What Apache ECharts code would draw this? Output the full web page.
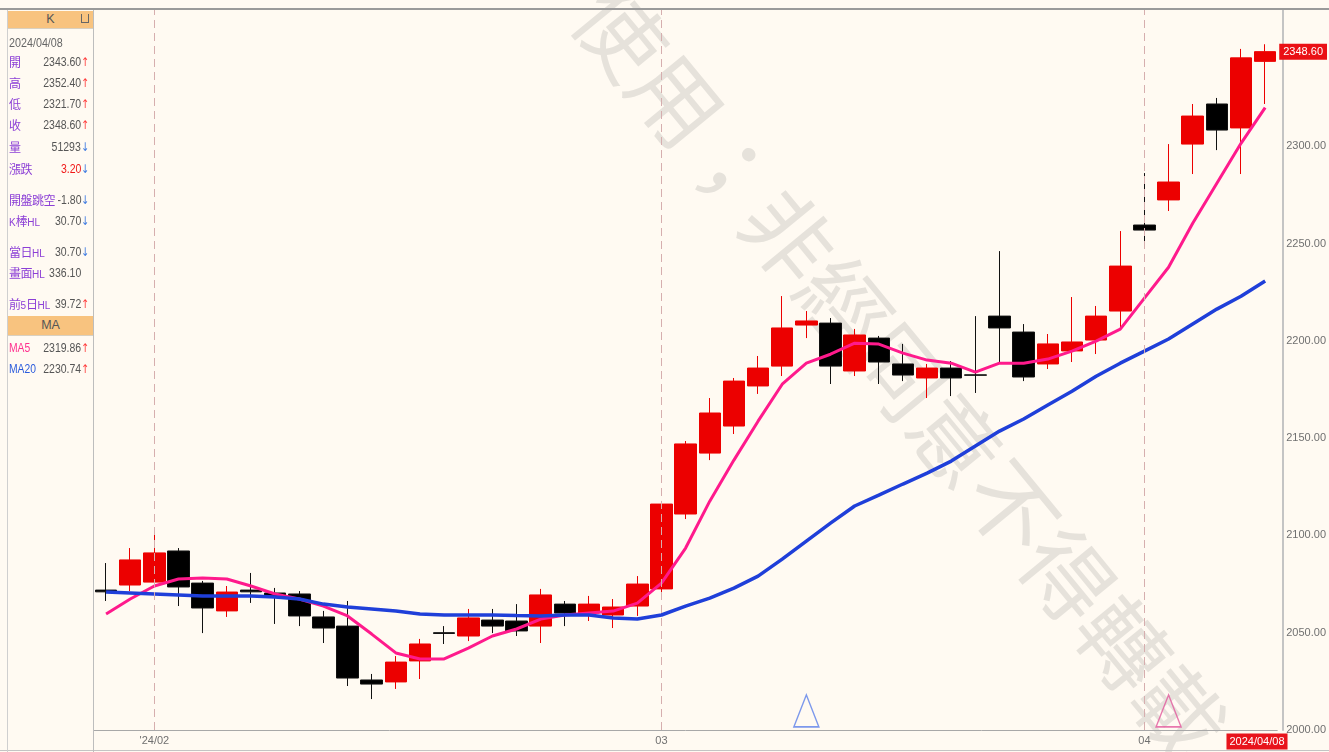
<!DOCTYPE html>
<html>
<head>
<meta charset="utf-8">
<title>K線</title>
<script src="https://cdn.jsdelivr.net/npm/echarts@6/dist/echarts.min.js"></script>
<style>
body{margin:0;background:#fffaf2;}
#wrap{position:relative;width:1329px;height:752px;overflow:hidden;background:#fffaf2;}
#main{position:absolute;left:0;top:0;width:1329px;height:752px;}
.topline{position:absolute;left:0;top:8px;width:1329px;height:2px;background:#9a9a9a;}
.botline{position:absolute;left:0;top:750px;width:1329px;height:1px;background:#c4c4c4;}
.panel{position:absolute;left:7px;top:10px;width:85px;height:742px;border-left:1px solid #cfcfcf;border-right:1px solid #bdbdbd;
  font-family:"Liberation Sans",Arial,sans-serif;font-size:12.5px;color:#555;pointer-events:none;}
.hd{position:absolute;left:0;width:85px;background:#f8c37f;text-align:center;color:#555;border-bottom:1px solid #d9d0c0;}
.hd .ic{position:absolute;right:4px;top:3px;width:6px;height:8px;border:1px solid #666;border-top:none;}
.row{position:absolute;left:1px;width:84px;height:16px;line-height:16px;white-space:nowrap;}
.dt{transform:scaleX(0.86);transform-origin:left center;color:#666;}
.lb{position:absolute;left:0;color:#8c3fd6;font-family:"Noto Sans CJK TC",sans-serif;font-size:12px;letter-spacing:-0.5px;}
.lb small{font-family:"Liberation Sans",Arial,sans-serif;font-size:10px;letter-spacing:0;}
.lb.ma{font-family:"Liberation Sans",Arial,sans-serif;font-size:12px;letter-spacing:0;transform:scaleX(0.86);transform-origin:left center;}
.v{position:absolute;right:12px;transform:scaleX(0.84);transform-origin:right center;}
.up,.dn{position:absolute;right:3px;font-family:"DejaVu Sans",sans-serif;font-size:12px;transform:scaleX(0.8);}
.up{color:#ff3b3b;}
.dn{color:#3a78e0;}
</style>
</head>
<body>
<div id="wrap">
  <div id="main"></div>
  <div class="topline"></div>
  <div class="botline"></div>
  <div class="panel">
    <div class="hd" style="top:1px;height:17px;line-height:17px;">K<span class="ic"></span></div>
    <div class="row dt" style="top:25px;">2024/04/08</div>
    <div class="row" style="top:44px;"><span class="lb">開</span><span class="v">2343.60</span><span class="up">↑</span></div>
    <div class="row" style="top:65px;"><span class="lb">高</span><span class="v">2352.40</span><span class="up">↑</span></div>
    <div class="row" style="top:86px;"><span class="lb">低</span><span class="v">2321.70</span><span class="up">↑</span></div>
    <div class="row" style="top:107px;"><span class="lb">收</span><span class="v">2348.60</span><span class="up">↑</span></div>
    <div class="row" style="top:129px;"><span class="lb">量</span><span class="v">51293</span><span class="dn">↓</span></div>
    <div class="row" style="top:151px;"><span class="lb">漲跌</span><span class="v" style="color:#f01818;">3.20</span><span class="dn">↓</span></div>
    <div class="row" style="top:182px;"><span class="lb">開盤跳空</span><span class="v">-1.80</span><span class="dn">↓</span></div>
    <div class="row" style="top:203px;"><span class="lb"><small>K</small>棒<small>HL</small></span><span class="v">30.70</span><span class="dn">↓</span></div>
    <div class="row" style="top:234px;"><span class="lb">當日<small>HL</small></span><span class="v">30.70</span><span class="dn">↓</span></div>
    <div class="row" style="top:255px;"><span class="lb">畫面<small>HL</small></span><span class="v">336.10</span></div>
    <div class="row" style="top:286px;"><span class="lb">前<small>5</small>日<small>HL</small></span><span class="v">39.72</span><span class="up">↑</span></div>
    <div class="hd" style="top:306px;height:19px;line-height:19px;">MA</div>
    <div class="row" style="top:330px;"><span class="lb ma" style="color:#ff2f8e;">MA5</span><span class="v">2319.86</span><span class="up">↑</span></div>
    <div class="row" style="top:351px;"><span class="lb ma" style="color:#2a5bdc;">MA20</span><span class="v">2230.74</span><span class="up">↑</span></div>
  </div>
</div>
<script>
// trading days shown on screen
var dates = [
  '2024/01/30','2024/01/31',
  '2024/02/01','2024/02/02','2024/02/05','2024/02/06','2024/02/07','2024/02/08','2024/02/09',
  '2024/02/12','2024/02/13','2024/02/14','2024/02/15','2024/02/16','2024/02/19','2024/02/20',
  '2024/02/21','2024/02/22','2024/02/23','2024/02/26','2024/02/27','2024/02/28','2024/02/29',
  '2024/03/01','2024/03/04','2024/03/05','2024/03/06','2024/03/07','2024/03/08','2024/03/11',
  '2024/03/12','2024/03/13','2024/03/14','2024/03/15','2024/03/18','2024/03/19','2024/03/20',
  '2024/03/21','2024/03/22','2024/03/25','2024/03/26','2024/03/27','2024/03/28',
  '2024/04/01','2024/04/02','2024/04/03','2024/04/04','2024/04/05','2024/04/08'
];
var opens = [2071.9,2074.5,2076.0,2092.0,2075.5,2061.2,2071.9,2070.4,2069.9,2058.1,
  2053.4,2025.7,2024.7,2035.5,2050.0,2048.3,2056.5,2056.0,2053.4,2064.7,
  2060.1,2059.1,2063.7,2072.5,2111.0,2142.3,2156.2,2176.8,2187.0,2208.1,
  2209.1,2184.5,2201.4,2188.1,2180.9,2186.0,2182.5,2212.7,2204.5,2188.1,
  2194.8,2200.4,2215.3,2259.5,2272.4,2301.1,2321.7,2309.4,2343.6];
var closes = [2071.0,2087.4,2091.0,2073.5,2062.7,2070.9,2071.0,2068.9,2058.6,2052.4,
  2026.7,2023.6,2034.9,2044.2,2049.6,2057.6,2053.4,2050.9,2069.4,2060.1,
  2064.7,2063.2,2075.0,2116.1,2147.0,2162.9,2179.3,2186.0,2206.6,2210.2,
  2187.0,2203.0,2189.1,2182.4,2186.0,2180.9,2182.3,2206.6,2181.4,2198.4,
  2199.4,2212.7,2238.4,2256.9,2281.6,2315.5,2308.3,2345.4,2348.6];
var lows = [2066.3,2071.4,2073.5,2063.7,2049.8,2058.1,2065.3,2054.5,2053.4,2044.7,
  2022.6,2015.9,2021.1,2026.2,2044.2,2045.7,2049.8,2048.3,2044.7,2053.4,
  2056.0,2052.4,2058.6,2070.4,2108.4,2138.7,2152.1,2172.7,2181.9,2201.4,
  2177.8,2181.9,2177.8,2179.3,2170.6,2171.6,2173.2,2188.1,2179.3,2185.5,
  2189.1,2193.2,2206.6,2248.7,2266.7,2285.7,2298.0,2285.7,2321.7];
var highs = [2085.8,2093.5,2103.3,2093.5,2076.6,2074.0,2080.7,2073.0,2071.4,2061.2,
  2066.3,2028.8,2038.0,2046.8,2053.4,2062.2,2062.2,2064.7,2072.5,2066.3,
  2068.9,2067.3,2079.1,2117.7,2148.5,2170.6,2180.9,2192.2,2223.0,2215.3,
  2211.7,2206.1,2202.5,2198.4,2188.1,2189.6,2212.7,2246.1,2208.6,2203.5,
  2222.5,2217.9,2256.4,2286.2,2301.1,2321.7,2324.8,2350.0,2352.4];
var ma5 = [2059.6,2067.3,2074.0,2077.6,2078.1,2077.6,2074.0,2069.9,2067.3,2063.7,
  2058.6,2049.3,2039.6,2036.5,2036.5,2042.1,2048.3,2051.9,2057.0,2059.1,
  2060.1,2061.1,2065.2,2075.5,2093.5,2117.6,2138.7,2158.7,2177.7,2188.5,
  2193.1,2198.8,2198.3,2193.7,2190.1,2188.5,2183.9,2188.5,2188.5,2190.6,
  2194.7,2199.8,2206.0,2221.9,2237.8,2260.4,2281.0,2301.5,2319.86];
var ma20 = [2070.9,2070.4,2069.9,2069.4,2068.8,2068.8,2068.8,2068.3,2067.3,2064.7,
  2063.2,2062.2,2061.1,2059.6,2059.1,2059.1,2059.1,2058.8,2058.6,2059.1,
  2059.1,2057.5,2057.0,2059.1,2063.7,2067.8,2072.9,2079.1,2087.8,2097.1,
  2106.3,2115.1,2120.7,2126.4,2132.0,2138.2,2145.9,2153.6,2159.8,2167.0,
  2174.1,2181.8,2188.5,2194.7,2200.9,2208.6,2216.3,2222.9,2230.74];
var monthDates = ['2024/02/01','2024/03/01','2024/04/01'];
var monthLabels = ["'24/02", '03', '04'];
var signalDates = ['2024/03/11', '2024/04/02'];
var signalLevels = [2009.8, 2009.8];
var lastClose = 2348.60;

var AXFONT = '"Liberation Sans",Arial,sans-serif';
var signalColors = ['#5b80ea', '#e2589c'];

var kData = dates.map(function (d, i) { return [opens[i], closes[i], lows[i], highs[i]]; });

var markData = monthDates.map(function (d) {
  return { xAxis: d, label: { show: false },
    lineStyle: { color: '#d6aeae', type: [8, 5], width: 1 } };
});
markData.push({
  yAxis: lastClose,
  lineStyle: { color: 'transparent', width: 0 },
  label: { show: true, position: 'end', distance: 2, formatter: lastClose.toFixed(2),
    color: '#fff', backgroundColor: '#ea1015', padding: [3, 4, 2, 4],
    fontFamily: AXFONT, fontSize: 11 }
});

var myChart = echarts.init(document.getElementById('main'));
var option = {
  animation: false,
  backgroundColor: '#fffaf2',
  grid: { left: 94, right: 50, top: 10, bottom: 22, show: false },
  graphic: [
    {
      type: 'text', x: 900, y: 372, rotation: -0.883, z: -5, silent: true,
      style: { text: '使用；非經同意不得轉載', fontSize: 88, fontWeight: 'normal',
        fontFamily: '"Noto Sans CJK TC",sans-serif', fill: '#e6e2db',
        align: 'center', verticalAlign: 'middle', textAlign: 'center', textVerticalAlign: 'middle' }
    },
    {
      type: 'text', x: 1257, y: 741.5, z: 10, silent: true,
      style: { text: dates[dates.length - 1], fill: '#fff', backgroundColor: '#e8141c',
        padding: [3, 3, 2, 3], fontSize: 11, fontFamily: AXFONT,
        align: 'center', verticalAlign: 'middle', textAlign: 'center', textVerticalAlign: 'middle' }
    }
  ],
  xAxis: {
    type: 'category',
    data: dates,
    boundaryGap: true,
    axisLine: { lineStyle: { color: '#a8a8a8', width: 1 } },
    axisTick: { show: false },
    splitLine: { show: false },
    axisLabel: {
      interval: 0, margin: 5, color: '#707070', fontSize: 11, fontFamily: AXFONT,
      formatter: function (v) {
        var k = monthDates.indexOf(v);
        return k >= 0 ? monthLabels[k] : '';
      }
    }
  },
  yAxis: {
    type: 'value',
    position: 'right',
    offset: 6,
    min: 2000,
    max: 2370,
    interval: 50,
    axisLine: { show: true, lineStyle: { color: '#c4c4c4', width: 2 } },
    axisTick: { show: false },
    splitLine: { show: false },
    axisLabel: {
      margin: 3, color: '#707070', fontSize: 11, fontFamily: AXFONT,
      formatter: function (v) { return v > 2340 ? '' : v.toFixed(2); }
    }
  },
  series: [
    {
      name: 'K',
      type: 'candlestick',
      data: kData,
      barWidth: 22,
      itemStyle: { color: '#ec0000', color0: '#000000', borderColor: '#ec0000', borderColor0: '#111111', borderWidth: 1 },
      markLine: { silent: true, symbol: 'none', animation: false, data: markData }
    },
    {
      name: 'MA5',
      type: 'line',
      data: ma5,
      symbol: 'none',
      lineStyle: { color: '#ff1a8c', width: 3 },
      z: 3
    },
    {
      name: 'MA20',
      type: 'line',
      data: ma20,
      symbol: 'none',
      lineStyle: { color: '#1f3fd9', width: 3.5 },
      z: 3
    },
    {
      name: 'signal',
      type: 'scatter',
      symbol: 'triangle',
      symbolSize: [25, 32],
      data: signalDates.map(function (d, i) {
        return { value: [d, signalLevels[i]],
          itemStyle: { color: 'rgba(0,0,0,0)', borderColor: signalColors[i], borderWidth: 1.5 } };
      }),
      z: 4
    }
  ]
};
myChart.setOption(option);
</script>
</body>
</html>
